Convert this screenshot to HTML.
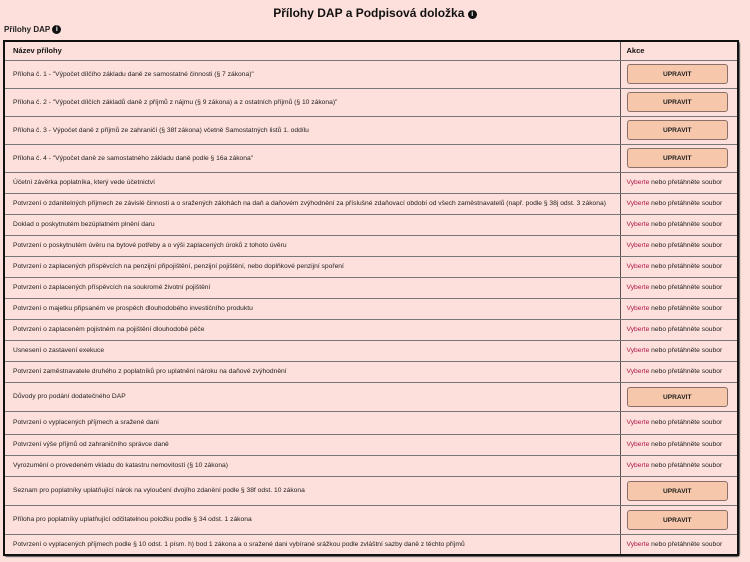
<!DOCTYPE html>
<html><head><meta charset="utf-8"><style>
*{margin:0;padding:0;box-sizing:border-box}
body{width:750px;height:562px;background:#fde0db;font-family:"Liberation Sans",sans-serif;position:relative;overflow:hidden;color:#222}
h1{position:absolute;top:6px;left:0;width:750px;text-align:center;font-size:12px;font-weight:bold;color:#111}
.i{display:inline-block;width:9px;height:9px;border-radius:50%;background:#111;color:#fff;font-size:7px;line-height:9px;text-align:center;vertical-align:1px;font-weight:bold}
.sub{position:absolute;top:25px;left:4px;font-size:8px;font-weight:bold}
table{position:absolute;left:3px;top:40px;width:736px;border-collapse:collapse;border:2px solid #111;border-radius:3px;font-size:6.7px;box-shadow:1px 1px 1px #555}
td{border-bottom:1px solid #777;padding:0 0 0 8px;vertical-align:middle}
td.a{width:118px;border-left:1px solid #555;padding:0 9px 0 6px}
tr.h td{height:19px;font-weight:bold;font-size:7.5px;color:#111}
tr.b td{height:28px}
tr.t td{height:21px}
tr.b2 td{height:29px}
.btn{height:20px;border:1px solid #8a7068;border-radius:3px;background:#f7c7ab;text-align:center;line-height:19px;font-weight:bold;font-size:6.6px;color:#222}
.v{color:#b0184a}
</style></head><body>
<h1>Přílohy DAP a Podpisová doložka <span class="i">i</span></h1>
<div class="sub">Přílohy DAP <span class="i">i</span></div>
<table>
<tr class="h"><td>Název přílohy</td><td class="a">Akce</td></tr>
<tr class="b"><td>Příloha č. 1 - "Výpočet dílčího základu daně ze samostatné činnosti (§ 7 zákona)"</td><td class="a"><div class="btn">UPRAVIT</div></td></tr>
<tr class="b"><td>Příloha č. 2 - "Výpočet dílčích základů daně z příjmů z nájmu (§ 9 zákona) a z ostatních příjmů (§ 10 zákona)"</td><td class="a"><div class="btn">UPRAVIT</div></td></tr>
<tr class="b"><td>Příloha č. 3 - Výpočet daně z příjmů ze zahraničí (§ 38f zákona) včetně Samostatných listů 1. oddílu</td><td class="a"><div class="btn">UPRAVIT</div></td></tr>
<tr class="b"><td>Příloha č. 4 - "Výpočet daně ze samostatného základu daně podle § 16a zákona"</td><td class="a"><div class="btn">UPRAVIT</div></td></tr>
<tr class="t"><td>Účetní závěrka poplatníka, který vede účetnictví</td><td class="a"><span class="v">Vyberte</span> nebo přetáhněte soubor</td></tr>
<tr class="t"><td>Potvrzení o zdanitelných příjmech ze závislé činnosti a o sražených zálohách na daň a daňovém zvýhodnění za příslušné zdaňovací období od všech zaměstnavatelů (např. podle § 38j odst. 3 zákona)</td><td class="a"><span class="v">Vyberte</span> nebo přetáhněte soubor</td></tr>
<tr class="t"><td>Doklad o poskytnutém bezúplatném plnění daru</td><td class="a"><span class="v">Vyberte</span> nebo přetáhněte soubor</td></tr>
<tr class="t"><td>Potvrzení o poskytnutém úvěru na bytové potřeby a o výši zaplacených úroků z tohoto úvěru</td><td class="a"><span class="v">Vyberte</span> nebo přetáhněte soubor</td></tr>
<tr class="t"><td>Potvrzení o zaplacených příspěvcích na penzijní připojištění, penzijní pojištění, nebo doplňkové penzijní spoření</td><td class="a"><span class="v">Vyberte</span> nebo přetáhněte soubor</td></tr>
<tr class="t"><td>Potvrzení o zaplacených příspěvcích na soukromé životní pojištění</td><td class="a"><span class="v">Vyberte</span> nebo přetáhněte soubor</td></tr>
<tr class="t"><td>Potvrzení o majetku připsaném ve prospěch dlouhodobého investičního produktu</td><td class="a"><span class="v">Vyberte</span> nebo přetáhněte soubor</td></tr>
<tr class="t"><td>Potvrzení o zaplaceném pojistném na pojištění dlouhodobé péče</td><td class="a"><span class="v">Vyberte</span> nebo přetáhněte soubor</td></tr>
<tr class="t"><td>Usnesení o zastavení exekuce</td><td class="a"><span class="v">Vyberte</span> nebo přetáhněte soubor</td></tr>
<tr class="t"><td>Potvrzení zaměstnavatele druhého z poplatníků pro uplatnění nároku na daňové zvýhodnění</td><td class="a"><span class="v">Vyberte</span> nebo přetáhněte soubor</td></tr>
<tr class="b2"><td>Důvody pro podání dodatečného DAP</td><td class="a"><div class="btn">UPRAVIT</div></td></tr>
<tr class="t"><td style="height:23px">Potvrzení o vyplacených příjmech a sražené dani</td><td class="a"><span class="v">Vyberte</span> nebo přetáhněte soubor</td></tr>
<tr class="t"><td>Potvrzení výše příjmů od zahraničního správce daně</td><td class="a"><span class="v">Vyberte</span> nebo přetáhněte soubor</td></tr>
<tr class="t"><td>Vyrozumění o provedeném vkladu do katastru nemovitostí (§ 10 zákona)</td><td class="a"><span class="v">Vyberte</span> nebo přetáhněte soubor</td></tr>
<tr class="b2"><td>Seznam pro poplatníky uplatňující nárok na vyloučení dvojího zdanění podle § 38f odst. 10 zákona</td><td class="a"><div class="btn">UPRAVIT</div></td></tr>
<tr class="b2"><td>Příloha pro poplatníky uplatňující odčitatelnou položku podle § 34 odst. 1 zákona</td><td class="a"><div class="btn">UPRAVIT</div></td></tr>
<tr class="t"><td style="border-bottom:none">Potvrzení o vyplacených příjmech podle § 10 odst. 1 písm. h) bod 1 zákona a o sražené dani vybírané srážkou podle zvláštní sazby daně z těchto příjmů</td><td class="a" style="border-bottom:none"><span class="v">Vyberte</span> nebo přetáhněte soubor</td></tr>
</table>
</body></html>
